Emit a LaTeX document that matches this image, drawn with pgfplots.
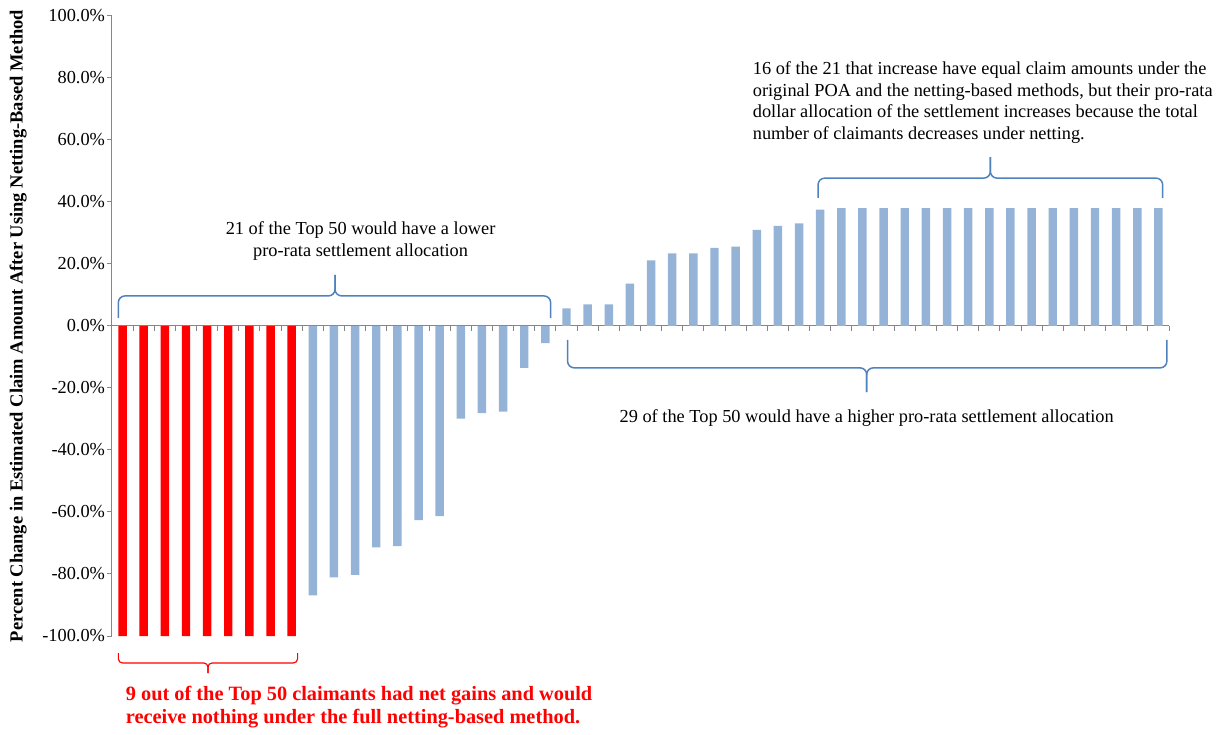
\documentclass[border=0pt]{standalone}
\usepackage{fontspec}
\setmainfont{Liberation Serif}
\usepackage{pgfplots}
\pgfplotsset{compat=1.18}
\definecolor{barblue}{HTML}{95B3D7}
\definecolor{braceblue}{HTML}{4F81BD}
\definecolor{axgray}{HTML}{868686}
\begin{document}
\begin{tikzpicture}
\begin{axis}[
  at={(0,0)}, anchor=south west,
  scale only axis, width=634.2pt, height=372pt,
  xmin=-0.5, xmax=49.5, ymin=-100, ymax=100,
  axis x line*=middle, axis y line*=left,
  axis line style={axgray, line width=0.6pt},
  xtick={-0.5,0.5,...,49.5}, xticklabels={},
  ytick={-100,-80,...,100},
  tick align=outside, major tick length=3pt,
  tick style={axgray, line width=0.6pt},
  /pgf/number format/assume math mode=true,
  yticklabel={\pgfmathprintnumber[fixed,fixed zerofill,precision=1]{\tick}\%},
  yticklabel style={font=\fontsize{11}{12}\selectfont, text=black, inner sep=1pt},
  ylabel={Percent Change  in  Estimated  Claim  Amount  After  Using  Netting-Based Method},
  every axis y label/.style={at={(axis description cs:-0.0889,0.5)}, rotate=90, anchor=center, font=\bfseries\fontsize{11.1}{12}\selectfont},
  clip=false,
]
\addplot[ybar, bar width=0.4, bar shift=0pt, fill=red, draw=none] coordinates {
  (0,-100) (1,-100) (2,-100) (3,-100) (4,-100) (5,-100) (6,-100) (7,-100) (8,-100)};
\addplot[ybar, bar width=0.4, bar shift=0pt, fill=barblue, draw=none] table {
x y
9 -86.9
10 -81.1
11 -80.3
12 -71.4
13 -71.0
14 -62.6
15 -61.3
16 -29.9
17 -28.1
18 -27.6
19 -13.5
20 -5.5
21 5.7
22 7.0
23 7.0
24 13.7
25 21.2
26 23.4
27 23.4
28 25.2
29 25.6
30 31.0
31 32.3
32 33.1
33 37.5
34 38.0
35 38.0
36 38.0
37 38.0
38 38.0
39 38.0
40 38.0
41 38.0
42 38.0
43 38.0
44 38.0
45 38.0
46 38.0
47 38.0
48 38.0
49 38.0
};
% brace 1 (lower group)
\draw[braceblue, line width=0.9pt, rounded corners=4pt] (-0.2,2.6) -- (-0.2,9.7) -- (10.05,9.7) -- (10.05,16.5);
\draw[braceblue, line width=0.9pt, rounded corners=4pt] (20.25,2.6) -- (20.25,9.7) -- (10.05,9.7) -- (10.05,16.5);
% brace 2 (higher group)
\draw[braceblue, line width=0.9pt, rounded corners=4pt] (21.05,-4.5) -- (21.05,-13.5) -- (35.2,-13.5) -- (35.2,-21.3);
\draw[braceblue, line width=0.9pt, rounded corners=4pt] (49.4,-4.5) -- (49.4,-13.5) -- (35.2,-13.5) -- (35.2,-21.3);
% brace 3 (equal claims)
\draw[braceblue, line width=0.9pt, rounded corners=4pt] (32.9,41.3) -- (32.9,47.7) -- (41.05,47.7) -- (41.05,54.5);
\draw[braceblue, line width=0.9pt, rounded corners=4pt] (49.2,41.3) -- (49.2,47.7) -- (41.05,47.7) -- (41.05,54.5);
% brace 4 (red)
\draw[red, line width=0.7pt, rounded corners=2.5pt] (-0.2,-105.5) -- (-0.2,-108.7) -- (4.04,-108.7) -- (4.04,-112);
\draw[red, line width=0.7pt, rounded corners=2.5pt] (8.28,-105.5) -- (8.28,-108.7) -- (4.04,-108.7) -- (4.04,-112);
% texts
\node[align=center, inner sep=0pt, font=\fontsize{11}{13}\selectfont] at (11.26,27.4)
  {21 of the Top 50 would have a lower\\pro-rata settlement allocation};
\node[inner sep=0pt, font=\fontsize{11}{13}\selectfont] at (35.2,-29.7)
  {29 of the Top 50 would have a higher pro-rata settlement allocation};
\node[align=left, anchor=west, inner sep=0pt, font=\fontsize{11}{13}\selectfont] at (29.8,72.1)
  {16 of the 21 that increase have equal claim amounts under the\\original POA and the netting-based methods, but their pro-rata\\dollar allocation of the settlement increases because the total\\number of claimants decreases under netting.};
\node[align=left, anchor=west, inner sep=0pt, text=red, font=\bfseries\fontsize{12.2}{13.8}\selectfont] at (0.14,-122.9)
  {9 out of the Top 50 claimants had net gains and would\\receive nothing under the full netting-based method.};
\end{axis}
\pgfresetboundingbox
\path (-67.2pt,-59.4pt) rectangle (665.4pt,381.6pt);
\end{tikzpicture}
\end{document}
